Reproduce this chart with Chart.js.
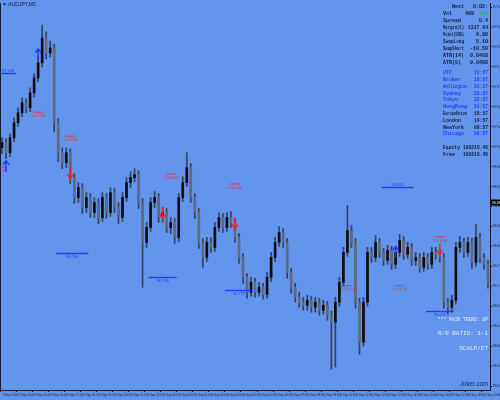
<!DOCTYPE html>
<html>
<head>
<meta charset="utf-8">
<style>
  html, body { margin: 0; padding: 0; background: #6495ed; }
  #caixa { width: 500px; height: 400px; }
</style>
<script src="https://cdn.jsdelivr.net/npm/chart.js@4.4.0/dist/chart.umd.min.js"></script>
</head>
<body>
<div id="caixa"><canvas id="graficoVelas" width="500" height="400"></canvas></div>
<script>
// Rótulos do eixo de tempo (um a cada 4 velas)
const rotulosTempo = ['3 Sep 2020', '3 Sep 14:00', '3 Sep 15:00', '3 Sep 16:00', '3 Sep 17:00', '3 Sep 18:00', '3 Sep 19:00', '3 Sep 20:00',
    '3 Sep 21:00', '3 Sep 22:00', '3 Sep 23:00', '4 Sep 00:00', '4 Sep 01:00', '4 Sep 02:00', '4 Sep 03:00', '4 Sep 04:00',
    '4 Sep 05:00', '4 Sep 06:00', '4 Sep 07:00', '4 Sep 08:00', '4 Sep 09:00', '4 Sep 10:00', '4 Sep 11:00', '4 Sep 12:00',
    '4 Sep 13:00', '4 Sep 14:00', '4 Sep 15:00', '4 Sep 16:00', '4 Sep 17:00', '4 Sep 18:00', '4 Sep 19:00'];

// Velas: abertura, máxima, mínima, fechamento
const aberturas = [
    96.998, 97.008, 96.988, 97.018, 97.048, 97.068, 97.088, 97.078, 97.108, 97.138,
    97.168, 97.218, 97.188, 97.198, 97.048, 96.988, 96.968, 96.988, 96.938, 96.898,
    96.918, 96.878, 96.898, 96.868, 96.888, 96.858, 96.898, 96.868, 96.908, 96.878,
    96.858, 96.898, 96.928, 96.938, 96.944, 96.888, 96.808, 96.838, 96.888, 96.898,
    96.858, 96.868, 96.838, 96.848, 96.818, 96.898, 96.928, 96.958, 96.898, 96.868,
    96.808, 96.778, 96.808, 96.798, 96.838, 96.858, 96.838, 96.858, 96.848, 96.818,
    96.778, 96.738, 96.708, 96.728, 96.708, 96.718, 96.704, 96.738, 96.778, 96.808,
    96.828, 96.808, 96.748, 96.718, 96.698, 96.688, 96.682, 96.692, 96.678, 96.688,
    96.672, 96.682, 96.662, 96.648, 96.688, 96.728, 96.788, 96.832, 96.808, 96.688,
    96.608, 96.688, 96.788, 96.778, 96.808, 96.788, 96.772, 96.792, 96.764, 96.788,
    96.812, 96.784, 96.798, 96.772, 96.778, 96.758, 96.778, 96.764, 96.788, 96.784,
    96.778, 96.688, 96.678, 96.692, 96.798, 96.808, 96.788, 96.808, 96.768, 96.818,
    96.778, 96.764
];
const maximos = [
    97.018, 97.016, 97.026, 97.058, 97.078, 97.098, 97.096, 97.118, 97.146, 97.180,
    97.244, 97.230, 97.212, 97.206, 97.056, 96.998, 96.998, 96.996, 96.946, 96.928,
    96.926, 96.908, 96.906, 96.898, 96.896, 96.908, 96.906, 96.918, 96.916, 96.888,
    96.908, 96.938, 96.950, 96.956, 96.952, 96.896, 96.848, 96.898, 96.910, 96.906,
    96.878, 96.876, 96.858, 96.856, 96.906, 96.940, 96.988, 96.966, 96.906, 96.876,
    96.816, 96.818, 96.818, 96.848, 96.868, 96.866, 96.868, 96.870, 96.856, 96.826,
    96.786, 96.746, 96.738, 96.736, 96.728, 96.726, 96.748, 96.788, 96.818, 96.840,
    96.836, 96.816, 96.756, 96.726, 96.708, 96.698, 96.702, 96.700, 96.698, 96.696,
    96.692, 96.690, 96.670, 96.698, 96.738, 96.798, 96.882, 96.842, 96.816, 96.696,
    96.698, 96.798, 96.798, 96.822, 96.816, 96.796, 96.802, 96.800, 96.798, 96.824,
    96.820, 96.808, 96.806, 96.788, 96.786, 96.788, 96.786, 96.798, 96.798, 96.794,
    96.786, 96.696, 96.702, 96.808, 96.820, 96.816, 96.818, 96.816, 96.844, 96.826,
    96.786, 96.772
];
const minimos = [
    96.986, 96.976, 96.980, 97.010, 97.040, 97.060, 97.068, 97.070, 97.100, 97.130,
    97.160, 97.176, 97.180, 97.030, 96.970, 96.956, 96.958, 96.926, 96.886, 96.888,
    96.866, 96.868, 96.858, 96.858, 96.846, 96.850, 96.856, 96.860, 96.868, 96.846,
    96.850, 96.890, 96.918, 96.930, 96.876, 96.718, 96.798, 96.830, 96.878, 96.848,
    96.848, 96.828, 96.826, 96.806, 96.810, 96.890, 96.920, 96.888, 96.856, 96.796,
    96.758, 96.770, 96.788, 96.790, 96.830, 96.828, 96.830, 96.838, 96.808, 96.766,
    96.726, 96.696, 96.700, 96.698, 96.700, 96.694, 96.696, 96.730, 96.770, 96.800,
    96.798, 96.736, 96.706, 96.688, 96.678, 96.672, 96.672, 96.668, 96.668, 96.662,
    96.664, 96.652, 96.554, 96.558, 96.680, 96.720, 96.780, 96.798, 96.676, 96.584,
    96.600, 96.680, 96.768, 96.770, 96.778, 96.762, 96.764, 96.754, 96.756, 96.780,
    96.774, 96.776, 96.762, 96.762, 96.748, 96.750, 96.754, 96.756, 96.774, 96.768,
    96.676, 96.664, 96.668, 96.684, 96.788, 96.778, 96.780, 96.756, 96.760, 96.768,
    96.754, 96.716
];
const fechamentos = [
    97.008, 96.988, 97.018, 97.048, 97.068, 97.088, 97.078, 97.108, 97.138, 97.168,
    97.218, 97.188, 97.198, 97.048, 96.988, 96.968, 96.988, 96.938, 96.898, 96.918,
    96.878, 96.898, 96.868, 96.888, 96.858, 96.898, 96.868, 96.908, 96.878, 96.858,
    96.898, 96.928, 96.938, 96.944, 96.888, 96.808, 96.838, 96.888, 96.898, 96.858,
    96.868, 96.838, 96.848, 96.818, 96.898, 96.928, 96.958, 96.898, 96.868, 96.808,
    96.778, 96.808, 96.798, 96.838, 96.858, 96.838, 96.858, 96.848, 96.818, 96.778,
    96.738, 96.708, 96.728, 96.708, 96.718, 96.704, 96.738, 96.778, 96.808, 96.828,
    96.808, 96.748, 96.718, 96.698, 96.688, 96.682, 96.692, 96.678, 96.688, 96.672,
    96.682, 96.662, 96.648, 96.688, 96.728, 96.788, 96.832, 96.808, 96.688, 96.608,
    96.688, 96.788, 96.778, 96.808, 96.788, 96.772, 96.792, 96.764, 96.788, 96.812,
    96.784, 96.798, 96.772, 96.778, 96.758, 96.778, 96.764, 96.788, 96.784, 96.778,
    96.688, 96.678, 96.692, 96.798, 96.808, 96.788, 96.808, 96.768, 96.818, 96.778,
    96.764, 96.728
];

// Marcas do eixo de preço
const valoresEixoY = [97.280, 97.240, 97.200, 97.160, 97.120, 97.080, 97.040, 97.000, 96.960, 96.920,
    96.880, 96.840, 96.800, 96.760, 96.720, 96.680, 96.640, 96.600, 96.560, 96.520];
const precoAtual = 96.888;

// Linhas de nível (índice da vela inicial/final e preço)
const niveis = [
    { de: 0, ate: 3, preco: 97.148, texto: '97.148', acima: true },
    { de: 14, ate: 21, preco: 96.786, texto: '96.786', acima: false },
    { de: 37, ate: 43, preco: 96.738, texto: '96.738', acima: false },
    { de: 56, ate: 62, preco: 96.712, texto: '96.712', acima: false },
    { de: 95, ate: 102, preco: 96.920, texto: '96.920', acima: true },
    { de: 106, ate: 112, preco: 96.670, texto: '96.670', acima: false }
];

// Rótulos vermelhos de alvo
const alvos = [
    { i: 0, preco: 96.952, texto: 'TP 96' },
    { i: 9, preco: 97.062, texto: '1.4:1.50' },
    { i: 17, preco: 97.014, texto: '1.4:1.50' },
    { i: 42, preco: 96.938, texto: '1.4:1.50' },
    { i: 58, preco: 96.918, texto: '1.4:1.50' },
    { i: 86, preco: 96.714, texto: '1.4:1.50' },
    { i: 99, preco: 96.714, texto: '1.4:1.50' },
    { i: 109, preco: 96.812, texto: '1.4:1.50' }
];

// Setas de sinal
const setasAlta = [{ i: 1, preco: 96.962 }, { i: 9, preco: 97.186 }, { i: 98, preco: 96.790 }];
const setasBaixa = [{ i: 17, preco: 96.946 }, { i: 40, preco: 96.866 }, { i: 58, preco: 96.846 }, { i: 109, preco: 96.794 }];

// Painel de informações
const infoRotulos = ['Next', 'Vol', 'Spread', 'Margin(1)', 'Point(USD)', 'SwapLong', 'SwapShort', 'ATR(14)', 'ATR(5)'];
const infoValores = ['0:02:', '489', '0.4', '1317.64', '6.80', '5.10', '-10.50', '0.0468', '0.0468'];
const relogioRotulos = ['UTC', 'Broker', 'Wellington', 'Sydney', 'Tokyo', 'HongKong', 'EuropeUnion', 'London', 'NewYork', 'Chicago'];
const relogioHoras = ['13:57', '16:57', '01:57', '23:57', '22:57', '21:57', '15:57', '14:57', '09:57', '08:57'];
const contaRotulos = ['Equity', 'Free'];
const contaValores = ['100216.45', '100216.45'];
const textosTendencia = ['*** MAIN TREND: UP', 'R/R RATIO: 1-1', 'SCALP/DT'];

const corEscura = '#141a30';
const corAzul = '#1e3cff';
const corVermelha = '#e8283c';

// Plugin que desenha fundo, níveis, setas e textos
const sobreposicoes = {
    id: 'sobreposicoes',
    beforeDraw(chart) {
        const ctx = chart.ctx;
        ctx.save();
        ctx.fillStyle = '#6495ed';
        ctx.fillRect(0, 0, chart.width, chart.height);
        ctx.restore();
    },
    afterDatasetsDraw(chart) {
        const { ctx, chartArea, scales: { x, y } } = chart;
        ctx.save();

        // moldura esquerda
        ctx.strokeStyle = corEscura;
        ctx.lineWidth = 1;
        ctx.beginPath();
        ctx.moveTo(chartArea.left + 0.5, chartArea.top);
        ctx.lineTo(chartArea.left + 0.5, chartArea.bottom);
        ctx.stroke();

        // linhas de nível
        ctx.textAlign = 'center';
        ctx.font = '4px "Liberation Sans"';
        niveis.forEach(n => {
            const x1 = x.getPixelForValue(n.de) - 2;
            const x2 = x.getPixelForValue(n.ate) + 2;
            const py = Math.round(y.getPixelForValue(n.preco)) + 0.5;
            ctx.strokeStyle = corAzul;
            ctx.lineWidth = 1.4;
            ctx.beginPath();
            ctx.moveTo(x1, py);
            ctx.lineTo(x2, py);
            ctx.stroke();
            ctx.fillStyle = corAzul;
            ctx.textBaseline = n.acima ? 'bottom' : 'top';
            ctx.fillText(n.texto, (x1 + x2) / 2, n.acima ? py - 1 : py + 1);
        });

        // rótulos vermelhos
        ctx.textBaseline = 'middle';
        alvos.forEach(a => {
            const px = x.getPixelForValue(a.i);
            const py = y.getPixelForValue(a.preco);
            ctx.fillStyle = corVermelha;
            ctx.fillText(a.texto, px, py);
            ctx.fillRect(px - 5, py - 4, 10, 0.8);
        });

        // setas de compra (azul) e venda (vermelha)
        ctx.lineWidth = 1.5;
        setasAlta.forEach(s => {
            const px = x.getPixelForValue(s.i);
            const py = y.getPixelForValue(s.preco);
            ctx.strokeStyle = corAzul;
            ctx.beginPath();
            ctx.moveTo(px, py + 6);
            ctx.lineTo(px, py - 5);
            ctx.moveTo(px - 3, py - 1);
            ctx.lineTo(px, py - 5);
            ctx.lineTo(px + 3, py - 1);
            ctx.stroke();
        });
        setasBaixa.forEach(s => {
            const px = x.getPixelForValue(s.i);
            const py = y.getPixelForValue(s.preco);
            ctx.strokeStyle = '#ff2020';
            ctx.beginPath();
            ctx.moveTo(px, py - 6);
            ctx.lineTo(px, py + 5);
            ctx.moveTo(px - 3, py + 1);
            ctx.lineTo(px, py + 5);
            ctx.lineTo(px + 3, py + 1);
            ctx.stroke();
        });

        // título
        ctx.fillStyle = corEscura;
        ctx.textAlign = 'left';
        ctx.font = '5px "Liberation Sans"';
        ctx.fillText('\u25BC AUDJPY,M5', 2, 5);

        // painel de informações
        ctx.font = 'bold 5px "Liberation Mono"';
        infoRotulos.forEach((r, k) => {
            const py = 7 + k * 7;
            ctx.fillStyle = corEscura;
            ctx.textAlign = 'left';
            ctx.fillText(r, k === 0 ? 452 : 443, py, 21);
            ctx.textAlign = 'right';
            if (k === 1) {
                ctx.fillText(infoValores[k], 474, py, 10);
                ctx.fillStyle = '#10c848';
                ctx.fillText('+0%', 488, py, 10);
            } else {
                ctx.fillText(infoValores[k], 488, py, 20);
            }
        });
        relogioRotulos.forEach((r, k) => {
            const py = 73 + k * 6.8;
            ctx.fillStyle = (k >= 6 && k <= 8) ? corEscura : corAzul;
            ctx.textAlign = 'left';
            ctx.fillText(r, 443, py, 24);
            ctx.textAlign = 'right';
            ctx.fillText(relogioHoras[k], 488, py, 14);
        });
        contaRotulos.forEach((r, k) => {
            const py = 148 + k * 6.5;
            ctx.fillStyle = corEscura;
            ctx.textAlign = 'left';
            ctx.fillText(r, 443, py, 17);
            ctx.textAlign = 'right';
            ctx.fillText(contaValores[k], 488, py, 25);
        });

        // textos de tendência
        ctx.fillStyle = '#e6ebf7';
        ctx.font = '6px "Liberation Mono"';
        textosTendencia.forEach((t, k) => {
            ctx.fillText(t, 488, 319 + k * 14.5, 50);
        });

        // marca d'água
        ctx.fillStyle = '#1b2a5a';
        ctx.font = '7px "Liberation Sans"';
        ctx.fillText('Joker.com', 488, 384, 28);

        // preço atual no eixo
        const pa = y.getPixelForValue(precoAtual);
        ctx.fillStyle = '#000';
        ctx.fillRect(chartArea.right + 1, pa - 3, 10, 6);
        ctx.fillStyle = '#fff';
        ctx.font = '3.5px "Liberation Sans"';
        ctx.textAlign = 'left';
        ctx.fillText(precoAtual.toFixed(3), chartArea.right + 2, pa);

        ctx.restore();
    }
};

// Dados das velas no formato de barras flutuantes
const pavios = minimos.map((l, i) => [l, maximos[i]]);
const corpos = aberturas.map((o, i) => [o, fechamentos[i]]);
const coresCorpo = corpos.map(([o, c]) => (c >= o ? '#0c0c0c' : '#5e6a82'));

const ctxVelas = document.getElementById('graficoVelas').getContext('2d');
const grafico = new Chart(ctxVelas, {
    type: 'bar',
    data: {
        labels: aberturas.map((_, i) => i),
        datasets: [
            { data: pavios, backgroundColor: '#36415c', barThickness: 1, grouped: false, order: 2 },
            { data: corpos, backgroundColor: coresCorpo, barThickness: 2, grouped: false, order: 1 }
        ]
    },
    options: {
        responsive: false,
        animation: false,
        layout: { padding: 0 },
        plugins: { legend: { display: false }, tooltip: { enabled: false } },
        scales: {
            x: {
                afterFit: (escala) => { escala.height = 10; },
                grid: {
                    drawOnChartArea: false,
                    tickLength: 2,
                    color: (c) => (c.index % 4 === 0 ? corEscura : 'rgba(0,0,0,0)')
                },
                border: { color: corEscura },
                ticks: {
                    autoSkip: false,
                    maxRotation: 0,
                    align: 'start',
                    padding: 1,
                    color: corEscura,
                    font: { size: 3, family: 'Liberation Sans' },
                    callback: (valor, indice) => (indice % 4 === 0 ? ' ' + rotulosTempo[indice / 4] : '')
                }
            },
            y: {
                position: 'right',
                min: 96.512,
                max: 97.288,
                afterFit: (escala) => { escala.width = 10; },
                afterBuildTicks: (escala) => { escala.ticks = valoresEixoY.map(v => ({ value: v })); },
                grid: { drawOnChartArea: false, tickLength: 2, color: corEscura },
                border: { color: corEscura },
                ticks: {
                    padding: 1,
                    color: corEscura,
                    font: { size: 3.5, family: 'Liberation Sans' },
                    callback: (valor) => Number(valor).toFixed(3)
                }
            }
        }
    },
    plugins: [sobreposicoes]
});
</script>
</body>
</html>
